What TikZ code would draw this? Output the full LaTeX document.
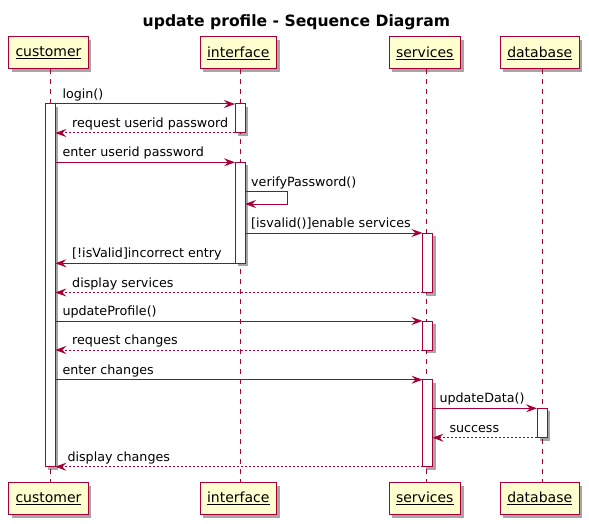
\documentclass[tikz,border=0pt]{standalone}
\usepackage{fontspec}
\setmainfont{DejaVu Sans}
\usetikzlibrary{arrows.meta,shadows}
\definecolor{plred}{RGB}{168,0,54}
\definecolor{plfill}{RGB}{254,254,206}
\begin{document}
\begin{tikzpicture}[x=1pt,y=-1pt,
  part/.style={draw=plred, line width=1pt, fill=plfill, minimum height=32pt, inner xsep=7pt, inner ysep=0pt, outer sep=0pt,
    font=\fontsize{14}{16}\selectfont,
    drop shadow={shadow xshift=3pt, shadow yshift=-3pt, fill=black, opacity=0.35}},
  act/.style={draw=plred, line width=1pt, fill=white, minimum width=10pt, inner sep=0pt, outer sep=0pt,
    drop shadow={shadow xshift=3pt, shadow yshift=-3pt, fill=black, opacity=0.35}},
  life/.style={draw=plred, line width=1pt, dash pattern=on 5pt off 5pt},
  msg/.style={draw=plred, line width=1pt, -{Stealth[length=11pt,width=8pt,inset=4pt]}},
  ret/.style={msg, dash pattern=on 2pt off 2pt},
  lbl/.style={anchor=base west, inner sep=0pt, font=\fontsize{12.7}{15}\selectfont}]
\useasboundingbox (0,0) rectangle (589,524);
\node[font=\fontsize{15.6}{18}\selectfont\bfseries, anchor=base, inner sep=0pt] (title) at (296.4,26.5) {update profile - Sequence Diagram};
% participants
\node[part] (cuT) at (48.5,53) {\underline{customer}};
\node[part] (ifT) at (238.3,53) {\underline{interface}};
\node[part] (svT) at (424.8,53) {\underline{services}};
\node[part] (dbT) at (539.7,53) {\underline{database}};
\node[part] (cuB) at (48.5,498.5) {\underline{customer}};
\node[part] (ifB) at (238.3,498.5) {\underline{interface}};
\node[part] (svB) at (424.8,498.5) {\underline{services}};
\node[part] (dbB) at (539.7,498.5) {\underline{database}};
% lifelines
\draw[life] ([xshift=1.8pt]cuT.south) -- ([xshift=1.8pt]cuB.north);
\draw[life] ([xshift=1.8pt]ifT.south) -- ([xshift=1.8pt]ifB.north);
\draw[life] ([xshift=1.8pt]svT.south) -- ([xshift=1.8pt]svB.north);
\draw[life] ([xshift=2.3pt]dbT.south) -- ([xshift=2.3pt]dbB.north);
% activations
\node[act, minimum height=362.7pt] (cuA) at (50.3,285.35) {};
\node[act, minimum height=29pt] (if1) at (240,118.5) {};
\node[act, minimum height=101pt] (if2) at (240,212.8) {};
\node[act, minimum height=59.5pt] (sv1) at (427.5,262.75) {};
\node[act, minimum height=29pt] (sv2) at (427.5,335.5) {};
\node[act, minimum height=87pt] (sv3) at (427.5,423.2) {};
\node[act, minimum height=29.4pt] (db1) at (542,423) {};
% messages
\draw[msg] (cuA.north east) -- (if1.north west);
\node[lbl] (l1) at (62.3,98.5) {login()};
\draw[ret] (if1.south west) -- (cuA.east |- if1.south west);
\node[lbl] (l2) at (72,127.5) {request userid password};
\draw[msg] (cuA.east |- if2.north) -- (if2.north west);
\node[lbl] (l3) at (62.3,156.8) {enter userid password};
\coordinate (vpa) at (if2.east |- 0,191.7);
\coordinate (vpb) at (if2.east |- 0,204);
\draw[msg] (vpa) -- ++(42.3,0) |- (vpb);
\node[lbl] (l4) at (251,186) {verifyPassword()};
\draw[msg] (if2.east |- sv1.north) -- (sv1.north west);
\node[lbl] (l5) at (251,227.2) {[isvalid()]enable services};
\draw[msg] (if2.south west) -- (cuA.east |- if2.south);
\node[lbl] (l6) at (72,257.8) {[!isValid]incorrect entry};
\draw[ret] (sv1.south west) -- (cuA.east |- sv1.south);
\node[lbl] (l7) at (72,287.2) {display services};
\draw[msg] (cuA.east |- sv2.north) -- (sv2.north west);
\node[lbl] (l8) at (62.3,315.5) {updateProfile()};
\draw[ret] (sv2.south west) -- (cuA.east |- sv2.south);
\node[lbl] (l9) at (72,344.5) {request changes};
\draw[msg] (cuA.east |- sv3.north) -- (sv3.north west);
\node[lbl] (l10) at (62.3,374.2) {enter changes};
\draw[msg] (sv3.east |- db1.north) -- (db1.north west);
\node[lbl] (l11) at (439.3,402.8) {updateData()};
\draw[ret] (db1.south west) -- (sv3.east |- db1.south);
\node[lbl] (l12) at (449.3,432.2) {success};
\draw[ret] (sv3.south west) -- (cuA.south east);
\node[lbl] (l13) at (67.3,461.2) {display changes};
\end{tikzpicture}
\end{document}
